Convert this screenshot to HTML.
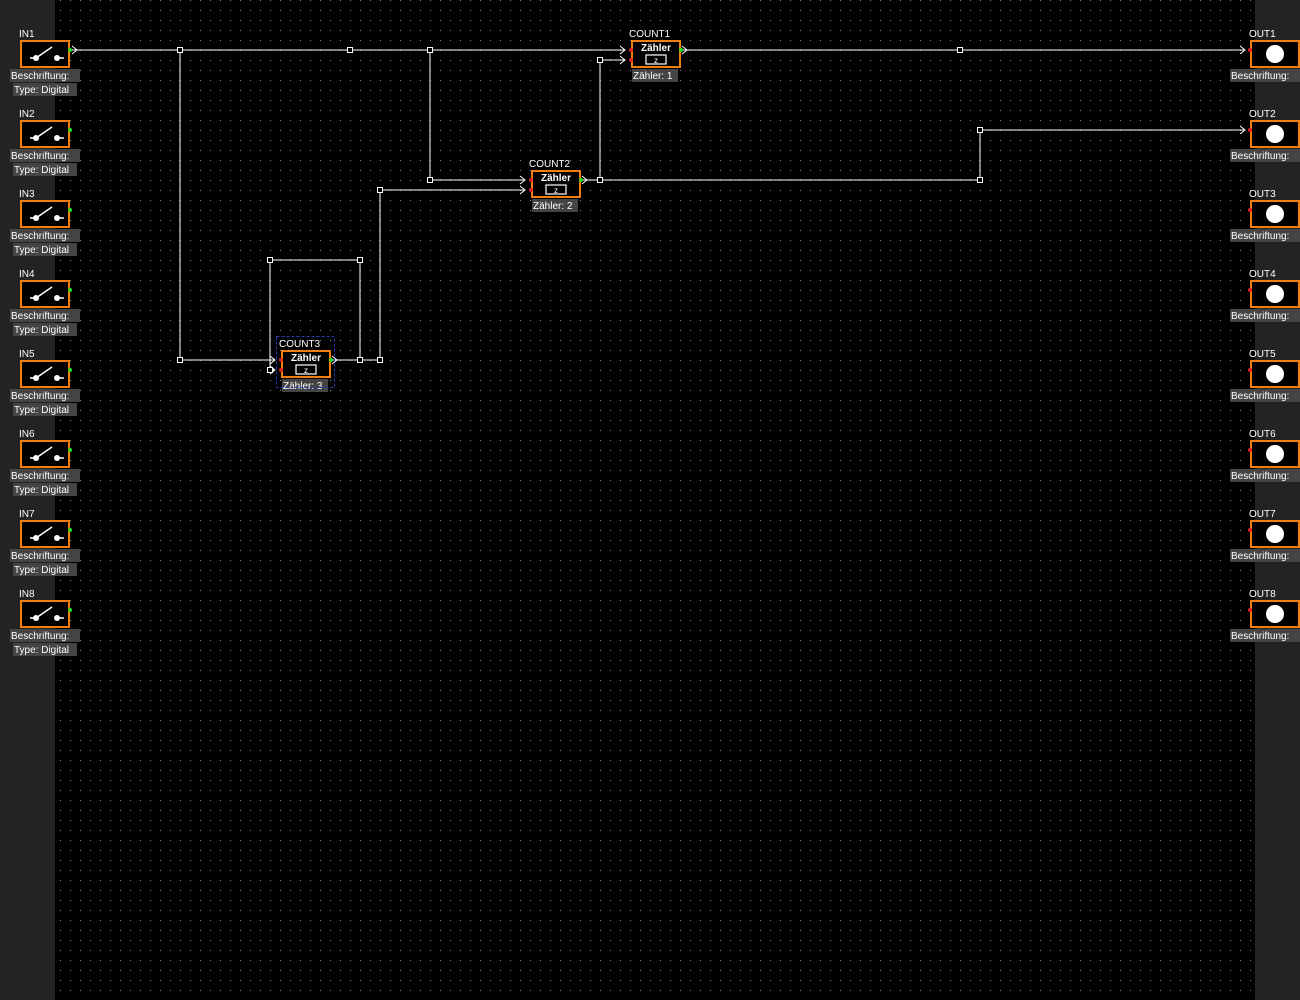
<!DOCTYPE html>
<html><head><meta charset="utf-8"><style>
html,body{margin:0;padding:0;background:#000;width:1300px;height:1000px;overflow:hidden}
svg{display:block}
text{font-family:"Liberation Sans","DejaVu Sans",sans-serif;font-size:10px;fill:#fff}
</style></head><body>
<svg id="s" width="1300" height="1000" xmlns="http://www.w3.org/2000/svg">
<defs>
<pattern id="dots" width="10" height="10" patternUnits="userSpaceOnUse"><rect x="0" y="0" width="1" height="1" fill="#8a8a8a"/></pattern>
</defs>
<rect width="1300" height="1000" fill="#000"/>
<rect x="55" y="0" width="1200" height="1000" fill="url(#dots)"/>
<rect x="0" y="0" width="55" height="1000" fill="#232323"/>
<rect x="1255" y="0" width="45" height="1000" fill="#232323"/>
<g id="g"></g>
</svg>
<script>
var h='';
function r(x,y,w,hh,f,s,sw){h+='<rect x="'+x+'" y="'+y+'" width="'+w+'" height="'+hh+'" fill="'+f+'"'+(s?' stroke="'+s+'" stroke-width="'+(sw||1)+'"':'')+'/>';}
function t(x,y,s,a){h+='<text x="'+x+'" y="'+y+'"'+(a||'')+'>'+s+'</text>';}
function l(p){h+='<polyline points="'+p+'" fill="none" stroke="#fff" stroke-width="1"/>';}
function arr(x,y){h+='<polyline points="'+(x-5)+','+(y-4)+' '+x+','+y+' '+(x-5)+','+(y+4)+'" fill="none" stroke="#fff" stroke-width="1"/>';}
function hd(x,y){r(x-2.5,y-2.5,5,5,'#000','#fff',1);}
function dot(x,y,c){h+='<circle cx="'+x+'" cy="'+y+'" r="2" fill="'+c+'"/>';}
for(var i=0;i<8;i++){var y=40+i*80;
 t(19,y-3,'IN'+(i+1));
 r(21,y+1,48,26,'#000','#f07f10',2);
 h+='<line x1="30" y1="'+(y+18)+'" x2="38" y2="'+(y+18)+'" stroke="#fff" stroke-width="1.5"/><circle cx="36" cy="'+(y+18)+'" r="3" fill="#fff"/><line x1="36" y1="'+(y+18)+'" x2="52" y2="'+(y+7)+'" stroke="#fff" stroke-width="1.5"/><circle cx="57" cy="'+(y+18)+'" r="3" fill="#fff"/><line x1="57" y1="'+(y+18)+'" x2="64" y2="'+(y+18)+'" stroke="#fff" stroke-width="1.5"/>';
 dot(70,y+10,'#2d2');
 r(10,y+29,70,13,'#444');t(11,y+39,'Beschriftung:');
 r(13,y+43,64,13,'#444');t(14,y+53,'Type: Digital');
 t(1249,y-3,'OUT'+(i+1));
 r(1251,y+1,48,26,'#000','#f07f10',2);
 h+='<circle cx="1275" cy="'+(y+14)+'" r="9" fill="#fff"/>';
 dot(1250,y+10,'#d22');
 r(1230,y+29,70,13,'#444');t(1231,y+39,'Beschriftung:');
}
function cnt(x,y,n){
 t(x-2,y-3,'COUNT'+n);
 r(x+1,y+1,48,26,'#000','#f07f10',2);
 t(x+25,y+11,'Zähler',' text-anchor="middle" style="font-weight:bold"');
 r(x+15,y+15,20,9,'#000','#fff',1.2);t(x+25,y+23,'z',' text-anchor="middle" style="font-size:8px"');
 dot(x,y+10,'#d22');dot(x,y+20,'#d22');dot(x+50,y+10,'#2d2');
 r(x+1,y+29,46,13,'#444');t(x+2,y+39,'Zähler: '+n);
}
// wires
l('72,50 625,50');arr(625,50);arr(77,50);
l('180,50 180,360 275,360');arr(275,360);
l('430,50 430,180 525,180');arr(525,180);
l('582,180 980,180 980,130 1245,130');arr(1245,130);arr(587,180);
l('600,180 600,60 625,60');arr(625,60);
l('682,50 1245,50');arr(1245,50);arr(687,50);
l('332,360 380,360 380,190 525,190');arr(525,190);arr(337,360);
l('360,360 360,260 270,260 270,370 275,370');arr(275,370);
[[180,50],[350,50],[430,50],[180,360],[430,180],[600,180],[600,60],[980,180],[980,130],[960,50],[360,360],[380,360],[380,190],[360,260],[270,260],[270,370]].forEach(function(p){hd(p[0],p[1]);});
cnt(631,40,1);cnt(531,170,2);cnt(281,350,3);
h+='<rect x="276.5" y="336.5" width="58" height="51" fill="none" stroke="#2a3ab0" stroke-dasharray="3,2"/>';
document.getElementById('g').innerHTML=h;
</script>
</body></html>
